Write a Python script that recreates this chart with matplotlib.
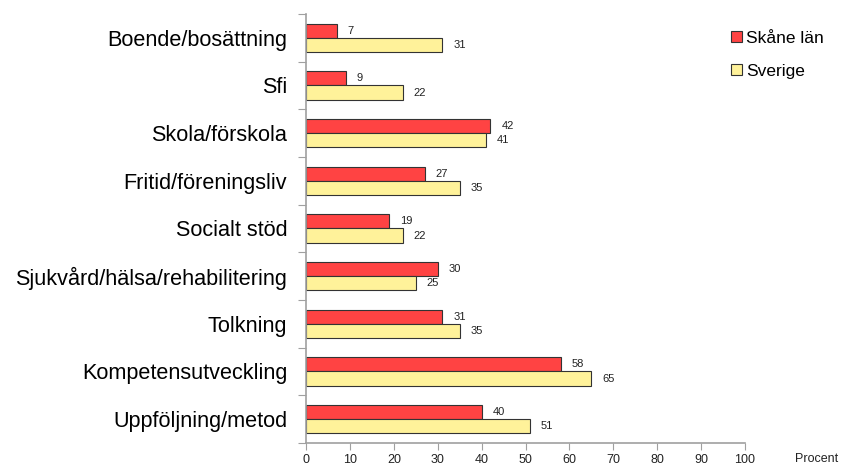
import numpy as np
import matplotlib.pyplot as plt
from matplotlib.patches import Patch

plt.rcParams['font.family'] = ['Liberation Sans', 'DejaVu Sans']

categories = ["Boende/bosättning", "Sfi", "Skola/förskola", "Fritid/föreningsliv",
              "Socialt stöd", "Sjukvård/hälsa/rehabilitering", "Tolkning",
              "Kompetensutveckling", "Uppföljning/metod"]
skane = [7, 9, 42, 27, 19, 30, 31, 58, 40]
sverige = [31, 22, 41, 35, 22, 25, 35, 65, 51]
xticks = list(range(0, 101, 10))

red = '#ff4343'
yellow = '#fff29a'
edge = '#333333'
axis_col = '#a0a0a0'

fig = plt.figure(figsize=(8.44, 4.66), dpi=100)
ax = fig.add_axes([0.3626, 0.0494, 0.5201, 0.9206])

n = len(categories)
y = np.arange(n)
h = 0.3
ax.barh(y - h / 2, skane, height=h, color=red, edgecolor=edge, linewidth=0.8, zorder=2)
ax.barh(y + h / 2, sverige, height=h, color=yellow, edgecolor=edge, linewidth=0.8, zorder=2)

for i in range(n):
    ax.text(skane[i] + 2.5, y[i] - h / 2, str(skane[i]), va='center', ha='left', fontsize=8, color='#222222')
    ax.text(sverige[i] + 2.5, y[i] + h / 2, str(sverige[i]), va='center', ha='left', fontsize=8, color='#222222')

ax.set_ylim(n - 0.5, -0.5)
ax.set_xlim(0, 100)
ax.set_xticks(xticks)
ax.set_xticklabels([str(t) for t in xticks], fontsize=9, color='#222222')

# kategorinamn i mitten, streck på gränserna
ax.set_yticks(np.arange(-0.5, n, 1.0))
ax.set_yticklabels([])
ax.set_yticks(y, minor=True)
ax.set_yticklabels(categories, minor=True, fontsize=15.6)
ax.tick_params(axis='y', which='minor', length=0, pad=13.5)
ax.tick_params(axis='y', which='major', length=6, color=axis_col, direction='out')
ax.tick_params(axis='x', length=5, color=axis_col, direction='out', pad=3)

for s in ['top', 'right']:
    ax.spines[s].set_visible(False)
for s in ['left', 'bottom']:
    ax.spines[s].set_color(axis_col)
    ax.spines[s].set_linewidth(1.2)

fig.text(0.942, 0.002, "Procent", fontsize=9, ha='left', va='bottom', color='#222222')

handles = [Patch(facecolor=red, edgecolor=edge, linewidth=0.8),
           Patch(facecolor=yellow, edgecolor=edge, linewidth=0.8)]
fig.legend(handles, ["Skåne län", "Sverige"], loc='upper left', bbox_to_anchor=(0.848, 0.968),
           frameon=False, fontsize=12.5, handlelength=0.6, handleheight=0.6,
           handletextpad=0.25, labelspacing=1.05)

plt.savefig("out.png", dpi=100)
